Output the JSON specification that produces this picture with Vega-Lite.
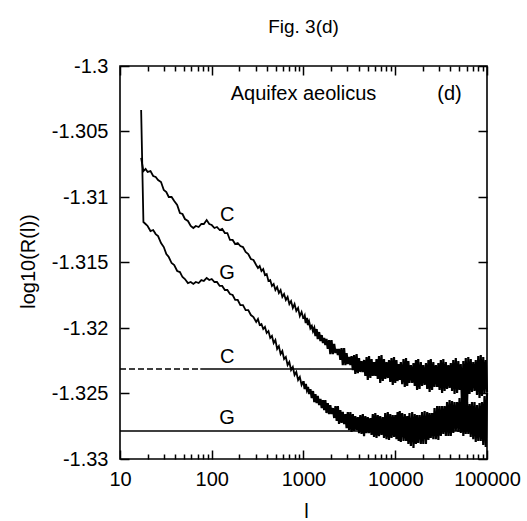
{
"$schema":"https://vega.github.io/schema/vega-lite/v6.json",
"width":367,"height":393,
"autosize":{"type":"none"},
"padding":{"left":120,"top":66,"right":40,"bottom":62},
"background":"white",
"title":{"text":"Fig. 3(d)","font":"Liberation Sans","fontSize":19,"fontWeight":"normal","color":"black","anchor":"middle","offset":19},
"config":{
 "view":{"stroke":"black","strokeWidth":1.6},
 "axis":{"grid":false,"domain":false,"tickColor":"black","tickWidth":1.5,"labelFont":"Liberation Sans","labelFontSize":20,"labelColor":"black","titleFont":"Liberation Sans","titleFontSize":20,"titleFontWeight":"normal","titleColor":"black","labelOverlap":false,"labelFlush":false,"labelBound":false},
 "text":{"font":"Liberation Sans","fontSize":20,"color":"black"}
},
"datasets":{
 "curves":[
{"l":17,"C":-1.30702,"G":-1.30336},{"l":18,"C":-1.30802,"G":-1.31191},{"l":19,"C":-1.30786,"G":-1.31206},{"l":20,"C":-1.30809,"G":-1.31221},{"l":21.5,"C":-1.30802,"G":-1.3126},{"l":23,"C":-1.3084,"G":-1.31252},{"l":24.5,"C":-1.30847,"G":-1.31283},{"l":26,"C":-1.3087,"G":-1.31298},{"l":28,"C":-1.30886,"G":-1.31351},{"l":30,"C":-1.30947,"G":-1.31382},{"l":32,"C":-1.30962,"G":-1.31435},{"l":34,"C":-1.31,"G":-1.31458},{"l":36.5,"C":-1.31,"G":-1.31504},{"l":39,"C":-1.31031,"G":-1.31519},{"l":42,"C":-1.31061,"G":-1.31565},{"l":45,"C":-1.31122,"G":-1.31573},{"l":48,"C":-1.3113,"G":-1.31611},{"l":51,"C":-1.31168,"G":-1.31626},{"l":55,"C":-1.31183,"G":-1.31657},{"l":59,"C":-1.31221,"G":-1.31649},{"l":63,"C":-1.31237,"G":-1.31664},{"l":67,"C":-1.31221,"G":-1.31649},{"l":72,"C":-1.31229,"G":-1.31657},{"l":77,"C":-1.31206,"G":-1.31634},{"l":82,"C":-1.31206,"G":-1.31641},{"l":88,"C":-1.31176,"G":-1.31618},{"l":94,"C":-1.31206,"G":-1.31634},{"l":100,"C":-1.31214,"G":-1.31626},{"l":107,"C":-1.31237,"G":-1.31649},{"l":114,"C":-1.31229,"G":-1.31649},{"l":122,"C":-1.31252,"G":-1.31679},{"l":130,"C":-1.31244,"G":-1.31679},{"l":139,"C":-1.31275,"G":-1.3171},{"l":148,"C":-1.31275,"G":-1.3171},{"l":158,"C":-1.31328,"G":-1.31741},{"l":169,"C":-1.31328,"G":-1.31748},{"l":180,"C":-1.31359,"G":-1.31786},{"l":192,"C":-1.31351,"G":-1.31786},{"l":205,"C":-1.31374,"G":-1.31825},{"l":219,"C":-1.31382,"G":-1.31825},{"l":234,"C":-1.3142,"G":-1.31863},{"l":250,"C":-1.31435,"G":-1.31863},{"l":267,"C":-1.31473,"G":-1.31901},{"l":285,"C":-1.31481,"G":-1.31916},{"l":305,"C":-1.31519,"G":-1.31954},
{"l":319,"C":-1.31542,"G":-1.31931},{"l":333,"C":-1.31527,"G":-1.31977},{"l":348,"C":-1.31565,"G":-1.3197},{"l":364,"C":-1.3155,"G":-1.32008},{"l":380,"C":-1.31596,"G":-1.31992},{"l":397,"C":-1.31588,"G":-1.32038},{"l":415,"C":-1.31641,"G":-1.32023},{"l":434,"C":-1.31634,"G":-1.32076},{"l":453,"C":-1.31679,"G":-1.32061},{"l":473,"C":-1.31664,"G":-1.32115},{"l":494,"C":-1.3171,"G":-1.32092},{"l":516,"C":-1.31687,"G":-1.3216},{"l":539,"C":-1.31733,"G":-1.32138},{"l":563,"C":-1.3171,"G":-1.32199},{"l":588,"C":-1.31763,"G":-1.32176},{"l":614,"C":-1.31741,"G":-1.32237},{"l":642,"C":-1.31786,"G":-1.32221},{"l":671,"C":-1.31763,"G":-1.32283},{"l":701,"C":-1.31817,"G":-1.3226},{"l":732,"C":-1.31794,"G":-1.32321},{"l":765,"C":-1.31847,"G":-1.32298},{"l":799,"C":-1.31817,"G":-1.32359},{"l":835,"C":-1.3187,"G":-1.32336},{"l":873,"C":-1.31847,"G":-1.32397},{"l":912,"C":-1.31909,"G":-1.32374},{"l":953,"C":-1.31878,"G":-1.32435},{"l":1000,"C":-1.31931,"G":-1.32405},
{"l":1030,"C":-1.31909,"G":-1.32466},{"l":1060,"C":-1.31962,"G":-1.32428},{"l":1090,"C":-1.31924,"G":-1.32473},{"l":1120,"C":-1.31977,"G":-1.3245},{"l":1150,"C":-1.31954,"G":-1.32504},{"l":1190,"C":-1.32,"G":-1.32466},{"l":1230,"C":-1.31985,"G":-1.32535},{"l":1270,"C":-1.32023,"G":-1.32481},{"l":1310,"C":-1.32,"G":-1.32565},{"l":1350,"C":-1.32061,"G":-1.32504},{"l":1390,"C":-1.32008,"G":-1.32573},{"l":1430,"C":-1.32084,"G":-1.32519},{"l":1480,"C":-1.32031,"G":-1.32588},{"l":1530,"C":-1.32099,"G":-1.32542},{"l":1580,"C":-1.32054,"G":-1.32611},{"l":1630,"C":-1.32115,"G":-1.3255},{"l":1680,"C":-1.32076,"G":-1.32626},{"l":1730,"C":-1.3213,"G":-1.3255},{"l":1780,"C":-1.32084,"G":-1.32649},{"l":1840,"C":-1.3216,"G":-1.32573},{"l":1900,"C":-1.32092,"G":-1.32657},{"l":1960,"C":-1.32199,"G":-1.32588},{"l":2020,"C":-1.32092,"G":-1.32657},{"l":2090,"C":-1.32199,"G":-1.32611},{"l":2160,"C":-1.32122,"G":-1.32687},{"l":2230,"C":-1.32191,"G":-1.32596},{"l":2300,"C":-1.3216,"G":-1.3271},{"l":2370,"C":-1.32206,"G":-1.32596},{"l":2440,"C":-1.3216,"G":-1.32733},{"l":2520,"C":-1.32244,"G":-1.32626},{"l":2600,"C":-1.32153,"G":-1.32725},{"l":2680,"C":-1.32283,"G":-1.32641},{"l":2770,"C":-1.32153,"G":-1.32733},{"l":2860,"C":-1.32283,"G":-1.32657},{"l":2950,"C":-1.32191,"G":-1.32764},{"l":3040,"C":-1.32275,"G":-1.32641},{"l":3140,"C":-1.32221,"G":-1.32779},{"l":3240,"C":-1.32283,"G":-1.32641},{"l":3340,"C":-1.32214,"G":-1.32794},{"l":3450,"C":-1.32321,"G":-1.32657},{"l":3560,"C":-1.32206,"G":-1.32786},{"l":3670,"C":-1.32351,"G":-1.32672},{"l":3790,"C":-1.32199,"G":-1.32779},{"l":3910,"C":-1.32344,"G":-1.3268},{"l":4030,"C":-1.32229,"G":-1.32802},{"l":4160,"C":-1.32336,"G":-1.32664},{"l":4290,"C":-1.32252,"G":-1.32809},{"l":4430,"C":-1.32336,"G":-1.32657},{"l":4570,"C":-1.32244,"G":-1.32825},{"l":4720,"C":-1.32366,"G":-1.32672},{"l":4870,"C":-1.32221,"G":-1.32802},{"l":5020,"C":-1.32397,"G":-1.3268},{"l":5180,"C":-1.32214,"G":-1.32802},{"l":5350,"C":-1.32382,"G":-1.32687},{"l":5520,"C":-1.32237,"G":-1.32817},{"l":5690,"C":-1.32366,"G":-1.32657},{"l":5870,"C":-1.3226,"G":-1.32832},{"l":6060,"C":-1.32366,"G":-1.32649},{"l":6250,"C":-1.32237,"G":-1.3284},{"l":6450,"C":-1.32389,"G":-1.32664},{"l":6650,"C":-1.32214,"G":-1.32825},{"l":6860,"C":-1.3242,"G":-1.32672},{"l":7080,"C":-1.32206,"G":-1.32817},{"l":7310,"C":-1.32405,"G":-1.3268},{"l":7540,"C":-1.32237,"G":-1.3284},{"l":7780,"C":-1.32389,"G":-1.32649},{"l":8030,"C":-1.3226,"G":-1.32848},{"l":8290,"C":-1.32382,"G":-1.32641},{"l":8550,"C":-1.32244,"G":-1.32855},{"l":8820,"C":-1.32412,"G":-1.32657},{"l":9100,"C":-1.32229,"G":-1.3284},{"l":9390,"C":-1.32435,"G":-1.32664},{"l":9690,"C":-1.32221,"G":-1.32832},{"l":10000,"C":-1.3242,"G":-1.32664},
{"l":10300,"C":-1.32244,"G":-1.32848},{"l":10600,"C":-1.32405,"G":-1.32641},{"l":10900,"C":-1.32275,"G":-1.32863},{"l":11200,"C":-1.32397,"G":-1.32634},{"l":11500,"C":-1.3226,"G":-1.3287},{"l":11900,"C":-1.32428,"G":-1.32649},{"l":12300,"C":-1.32237,"G":-1.32863},{"l":12700,"C":-1.3245,"G":-1.32657},{"l":13100,"C":-1.32229,"G":-1.32863},{"l":13500,"C":-1.32443,"G":-1.32672},{"l":13900,"C":-1.32252,"G":-1.32886},{"l":14300,"C":-1.3242,"G":-1.32649},{"l":14800,"C":-1.32283,"G":-1.32901},{"l":15300,"C":-1.3242,"G":-1.32641},{"l":15800,"C":-1.32267,"G":-1.32916},{"l":16300,"C":-1.32443,"G":-1.32657},{"l":16800,"C":-1.32244,"G":-1.32886},{"l":17300,"C":-1.32473,"G":-1.32664},{"l":17800,"C":-1.32237,"G":-1.32878},{"l":18400,"C":-1.32466,"G":-1.32664},{"l":19000,"C":-1.3226,"G":-1.32886},{"l":19600,"C":-1.32443,"G":-1.32641},{"l":20200,"C":-1.32283,"G":-1.32886},{"l":20900,"C":-1.32435,"G":-1.32634},{"l":21600,"C":-1.32267,"G":-1.32886},{"l":22300,"C":-1.32466,"G":-1.32641},{"l":23000,"C":-1.32244,"G":-1.32855},{"l":23700,"C":-1.32489,"G":-1.32649},{"l":24400,"C":-1.32237,"G":-1.3284},{"l":25200,"C":-1.32473,"G":-1.32649},{"l":26000,"C":-1.3226,"G":-1.32848},{"l":26800,"C":-1.3245,"G":-1.32611},{"l":27700,"C":-1.32283,"G":-1.32848},{"l":28600,"C":-1.3245,"G":-1.32596},{"l":29500,"C":-1.32267,"G":-1.32855},{"l":30400,"C":-1.32473,"G":-1.32596},{"l":31400,"C":-1.32244,"G":-1.32825},{"l":32400,"C":-1.32496,"G":-1.32596},{"l":33400,"C":-1.32237,"G":-1.32809},{"l":34500,"C":-1.32481,"G":-1.32596},{"l":35600,"C":-1.3226,"G":-1.32825},{"l":36700,"C":-1.32466,"G":-1.32565},{"l":37900,"C":-1.32283,"G":-1.32825},{"l":39100,"C":-1.32458,"G":-1.3255},{"l":40300,"C":-1.32267,"G":-1.32825},{"l":41600,"C":-1.32481,"G":-1.32557},{"l":42900,"C":-1.32244,"G":-1.32802},{"l":44300,"C":-1.32504,"G":-1.32565},{"l":45700,"C":-1.32229,"G":-1.32786},{"l":47200,"C":-1.32496,"G":-1.32565},{"l":48700,"C":-1.32252,"G":-1.32794},{"l":50200,"C":-1.32473,"G":-1.32535},{"l":51800,"C":-1.32275,"G":-1.32802},{"l":53500,"C":-1.32611,"G":-1.32535},{"l":55200,"C":-1.32252,"G":-1.32825},{"l":56900,"C":-1.32641,"G":-1.32557},{"l":58700,"C":-1.32229,"G":-1.32809},{"l":60600,"C":-1.32588,"G":-1.32565},{"l":62500,"C":-1.32221,"G":-1.32809},{"l":64500,"C":-1.32504,"G":-1.3258},{"l":66500,"C":-1.32237,"G":-1.32832},{"l":68600,"C":-1.32489,"G":-1.32565},{"l":70800,"C":-1.3226,"G":-1.32848},{"l":73100,"C":-1.32481,"G":-1.32565},{"l":75400,"C":-1.32244,"G":-1.3287},{"l":77800,"C":-1.32512,"G":-1.32588},{"l":80300,"C":-1.32214,"G":-1.32863},{"l":82900,"C":-1.32535,"G":-1.32573},{"l":85500,"C":-1.32206,"G":-1.32863},{"l":88200,"C":-1.32519,"G":-1.32565},{"l":91000,"C":-1.32221,"G":-1.32893},{"l":93900,"C":-1.32496,"G":-1.32519},{"l":96900,"C":-1.32244,"G":-1.32909},{"l":100000,"C":-1.32489,"G":-1.32496}
 ],
 "refs":[
  {"y":-1.32313,"from":10,"to":75,"style":"dashed"},
  {"y":-1.32313,"from":75,"to":100000,"style":"solid"},
  {"y":-1.32786,"from":10,"to":100000,"style":"solid"}
 ],
 "labels":[
  {"l":147,"v":-1.31137,"t":"C"},{"l":147,"v":-1.3158,"t":"G"},
  {"l":147,"v":-1.32221,"t":"C"},{"l":147,"v":-1.32687,"t":"G"}
 ],
 "notes":[
  {"l":1000,"v":-1.30214,"t":"Aquifex aeolicus"},{"l":39000,"v":-1.30214,"t":"(d)"}
 ]
},
"layer":[
 {
  "data":{"name":"curves"},
  "transform":[{"filter":"datum.l <= 1000"},{"fold":["C","G"],"as":["series","value"]}],
  "mark":{"type":"line","color":"black","strokeWidth":1.8},
  "encoding":{
   "x":{"field":"l","type":"quantitative","scale":{"type":"log","domain":[10,100000]},
        "axis":{"orient":"bottom","values":[10,100,1000,10000,100000],"labelExpr":"'' + datum.value","tickSize":-9,"labelPadding":19,"title":"l","titleX":186,"titleY":52,"titleAlign":"center","titleBaseline":"middle"}},
   "y":{"field":"value","type":"quantitative","scale":{"domain":[-1.33,-1.3]},
        "axis":{"orient":"left","values":[-1.33,-1.325,-1.32,-1.315,-1.31,-1.305,-1.3],"labelExpr":"'' + datum.value","tickSize":-9,"labelPadding":21,"title":"log10(R(l))","titleAngle":-90,"titleX":-92,"titleY":195,"titleAlign":"center","titleBaseline":"middle"}},
   "detail":{"field":"series"}
  }
 },
 {
  "data":{"name":"curves"},
  "transform":[{"filter":"datum.l >= 1000"},{"fold":["C","G"],"as":["series","value"]}],
  "mark":{"type":"line","color":"black","strokeWidth":2.2},
  "encoding":{
   "x":{"field":"l","type":"quantitative","scale":{"type":"log","domain":[10,100000]},"axis":null},
   "y":{"field":"value","type":"quantitative","scale":{"domain":[-1.33,-1.3]},"axis":null},
   "detail":{"field":"series"}
  }
 },
 {
  "data":{"name":"refs"},
  "mark":{"type":"rule","color":"black","strokeWidth":1.5},
  "encoding":{
   "x":{"field":"from","type":"quantitative","scale":{"type":"log","domain":[10,100000]},
        "axis":{"orient":"bottom","values":[20,30,40,50,60,70,80,90,200,300,400,500,600,700,800,900,2000,3000,4000,5000,6000,7000,8000,9000,20000,30000,40000,50000,60000,70000,80000,90000],"labels":false,"tickSize":-5,"title":null}},
   "x2":{"field":"to"},
   "y":{"field":"y","type":"quantitative","scale":{"domain":[-1.33,-1.3]},
        "axis":{"orient":"right","values":[-1.33,-1.325,-1.32,-1.315,-1.31,-1.305,-1.3],"labels":false,"tickSize":-9,"title":null}},
   "strokeDash":{"field":"style","type":"nominal","scale":{"domain":["dashed","solid"],"range":[[6,3],[1,0]]},"legend":null}
  }
 },
 {
  "data":{"name":"labels"},
  "mark":{"type":"text","align":"center","baseline":"middle"},
  "encoding":{
   "x":{"field":"l","type":"quantitative","scale":{"type":"log","domain":[10,100000]},
        "axis":{"orient":"top","values":[10,100,1000,10000,100000],"labels":false,"tickSize":-9,"title":null}},
   "y":{"field":"v","type":"quantitative","scale":{"domain":[-1.33,-1.3]},"axis":null},
   "text":{"field":"t"}
  }
 },
 {
  "data":{"name":"notes"},
  "mark":{"type":"text","align":"center","baseline":"middle"},
  "encoding":{
   "x":{"field":"l","type":"quantitative","scale":{"type":"log","domain":[10,100000]},
        "axis":{"orient":"top","values":[20,30,40,50,60,70,80,90,200,300,400,500,600,700,800,900,2000,3000,4000,5000,6000,7000,8000,9000,20000,30000,40000,50000,60000,70000,80000,90000],"labels":false,"tickSize":-5,"title":null}},
   "y":{"field":"v","type":"quantitative","scale":{"domain":[-1.33,-1.3]},"axis":null},
   "text":{"field":"t"}
  }
 }
],
"resolve":{"axis":{"x":"independent","y":"independent"}}
}
